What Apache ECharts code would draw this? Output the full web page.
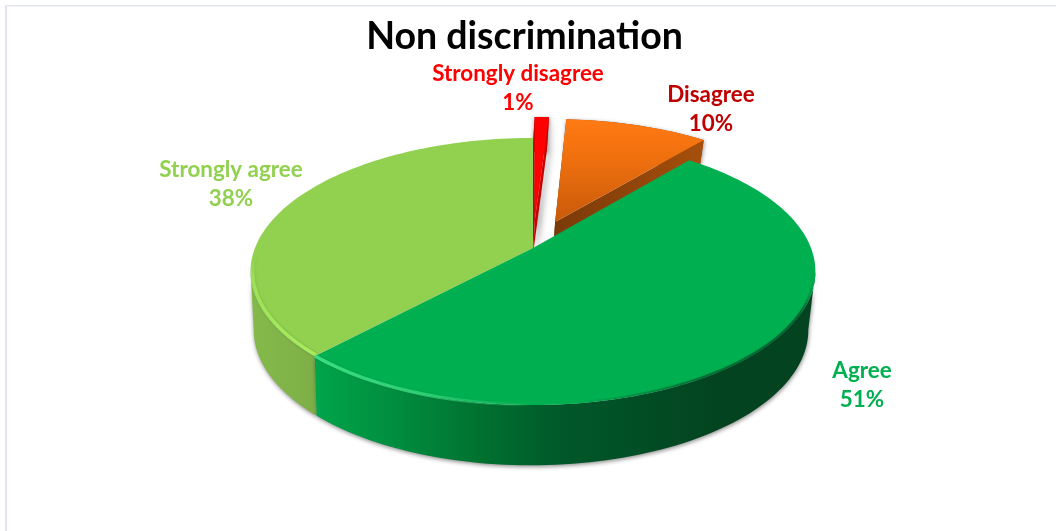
<!DOCTYPE html>
<html>
<head>
<meta charset="utf-8">
<style>html,body{margin:0;padding:0;background:#fff}#c{width:1056px;height:531px}</style>
<script src="https://cdn.jsdelivr.net/npm/echarts@6/dist/echarts.min.js"></script>
</head>
<body>
<div id="c"></div>
<script>
const titleText = 'Non discrimination';
const categories = ['Strongly disagree', 'Disagree', 'Agree', 'Strongly agree'];
const values = [1, 10, 51, 38];
const labelColors = ['#ff0000', '#c00000', '#00b050', '#92d050'];

// layout of the tilted disc
const CX = 533, CY = 248, RX = 278, RY = 129.4, K = 0.176;
const EXPLODE = [0.232, 0.224, 0, 0];
const DEPTHS = [36, 36, 58, 58];
const BOTTOM_CX = 531, BOTTOM_SCALE = 0.982;
const paintOrder = [0, 1, 3, 2];
const labelAnchors = [[518, 88], [711, 109], [862, 385], [231, 184]];
const total = values.reduce((a, b) => a + b, 0);

function pt(u, v, depth) {
  const w = 1 + K * v;
  if (depth) {
    return [BOTTOM_CX + BOTTOM_SCALE * RX * u / w, CY - RY * v / w + depth / Math.pow(w, 0.2)];
  }
  return [CX + RX * u / w, CY - RY * v / w];
}
function rad(d) { return d * Math.PI / 180; }
function arc(a0, a1, ox, oy, depth, inset) {
  const pts = [], n = Math.max(2, Math.ceil(Math.abs(a1 - a0) / 1.5));
  const r = inset || 1;
  for (let i = 0; i <= n; i++) {
    const a = rad(a0 + (a1 - a0) * i / n);
    pts.push(pt(r * Math.sin(a) + ox, r * Math.cos(a) + oy, depth));
  }
  return pts;
}
function grad(x, y, x2, y2, stops) {
  return { type: 'linear', global: true, x, y, x2, y2,
    colorStops: stops.map(s => ({ offset: s[0], color: s[1] })) };
}
const topFill = [
  () => '#ff0000',
  () => grad(0, 118, 0, 224, [[0, '#ff7a14'], [0.35, '#f1710f'], [1, '#c8590a']]),
  () => '#00b050',
  () => '#92d050'
];
const wallFill = [
  () => '#c80000',
  () => '#9a4a0c',
  () => grad(315, 0, 720, 0, [[0, '#00a54a'], [0.22, '#008a3e'], [0.42, '#00702f'], [0.62, '#00572a'], [1, '#03431f']]),
  () => grad(252, 0, 320, 0, [[0, '#84ba4a'], [1, '#7dae47']])
];
const faceFill = [
  () => '#c80000',
  () => grad(703, 0, 555, 0, [[0, '#a64f0c'], [1, '#7a3a09']]),
  () => '#005f2b',
  () => '#7dae47'
];
const rimStroke = [
  null, null,
  () => grad(315, 0, 815, 0, [[0, 'rgba(60,225,130,0.95)'], [0.22, 'rgba(60,225,130,0.7)'],
    [0.44, 'rgba(60,225,130,0)'], [0.52, 'rgba(0,80,40,0)'], [0.78, 'rgba(0,70,35,0.55)'], [0.97, 'rgba(0,60,30,0.6)'], [1, 'rgba(0,60,30,0)']]),
  () => grad(0, 355, 0, 255, [[0, 'rgba(168,236,92,1)'], [0.8, 'rgba(168,236,92,0.75)'], [1, 'rgba(168,236,92,0)']])
];
const rimInset = [1, 1, 0.998, 0.993];

function renderItem(params, api) {
  const i = params.dataIndex;
  let before = 0;
  for (let j = 0; j < i; j++) before += values[j];
  const a0 = before / total * 360;
  const a1 = a0 + api.value(0) / total * 360;
  const mid = rad((a0 + a1) / 2), d = EXPLODE[i], D = DEPTHS[i];
  const ox = Math.sin(mid) * d, oy = Math.cos(mid) * d;
  const z = paintOrder.indexOf(i) * 10 + 1;
  const apexT = pt(ox, oy, 0), apexB = pt(ox, oy, D);
  const children = [];
  const poly = (points, fill, zz, extra) => children.push({
    type: 'polygon', z2: z + zz, shape: { points },
    style: Object.assign({ fill }, extra || {})
  });
  const shadow = { shadowBlur: 4, shadowColor: 'rgba(60,60,60,0.6)', shadowOffsetX: 0.5, shadowOffsetY: 1.5 };
  // outer wall, limited to the part turned towards the viewer
  let w0 = a0, w1 = a1;
  if (a0 < 100 && a1 > 100) w0 = 100;
  if (a0 < 260 && a1 > 260) w1 = 260;
  const wt = arc(w0, w1, ox, oy, 0), wb = arc(w0, w1, ox, oy, D).reverse();
  poly(wt.concat(wb), wallFill[i](), 0, shadow);
  // cut faces of the pulled-out slices
  if (d > 0) {
    [a0, a1].forEach(a => {
      const s = arc(a, a, ox, oy, 0)[0], b = arc(a, a, ox, oy, D)[0];
      poly([apexT, s, b, apexB], faceFill[i](), 1, i === 0 ? { shadowBlur: 6, shadowColor: 'rgba(90,90,90,0.7)', shadowOffsetX: 3 } : null);
    });
  }
  // top face
  poly([apexT].concat(arc(a0, a1, ox, oy, 0)), topFill[i](), 2);
  // bevel along the rim
  if (rimStroke[i]) {
    children.push({
      type: 'polyline', z2: z + 3, silent: true,
      shape: { points: arc(i === 2 ? 100 : a0, i === 3 ? 275 : a1, ox, oy, 0, rimInset[i]) },
      style: { fill: null, stroke: rimStroke[i](), lineWidth: 3.5, shadowBlur: 3, shadowColor: 'rgba(0,60,30,0.25)' }
    });
  }
  // label
  children.push({
    type: 'text', z2: 100, x: labelAnchors[i][0], y: labelAnchors[i][1],
    style: {
      text: categories[i] + '\n' + api.value(0) + '%',
      fill: labelColors[i], font: 'bold 22.4px Lato', align: 'center',
      verticalAlign: 'middle', lineHeight: 29
    }
  });
  return { type: 'group', children };
}

const chart = echarts.init(document.getElementById('c'), null, { renderer: 'canvas', width: 1056, height: 531 });
chart.setOption({
  animation: false,
  backgroundColor: '#ffffff',
  title: {
    text: titleText, left: 519.5, top: 13, textAlign: 'center',
    textStyle: { fontFamily: 'Lato', fontWeight: 'bold', fontSize: 37.5, color: '#000000' }
  },
  graphic: [
    { type: 'rect', shape: { x: 5, y: 5, width: 2, height: 526 }, style: { fill: '#e1e5ee' } },
    { type: 'rect', shape: { x: 5, y: 5, width: 1051, height: 1.5 }, style: { fill: '#e1e5ee' } }
  ],
  series: [{
    type: 'custom',
    coordinateSystem: 'none',
    renderItem,
    data: categories.map((name, i) => ({ name, value: [values[i]] }))
  }]
});
</script>
</body>
</html>
